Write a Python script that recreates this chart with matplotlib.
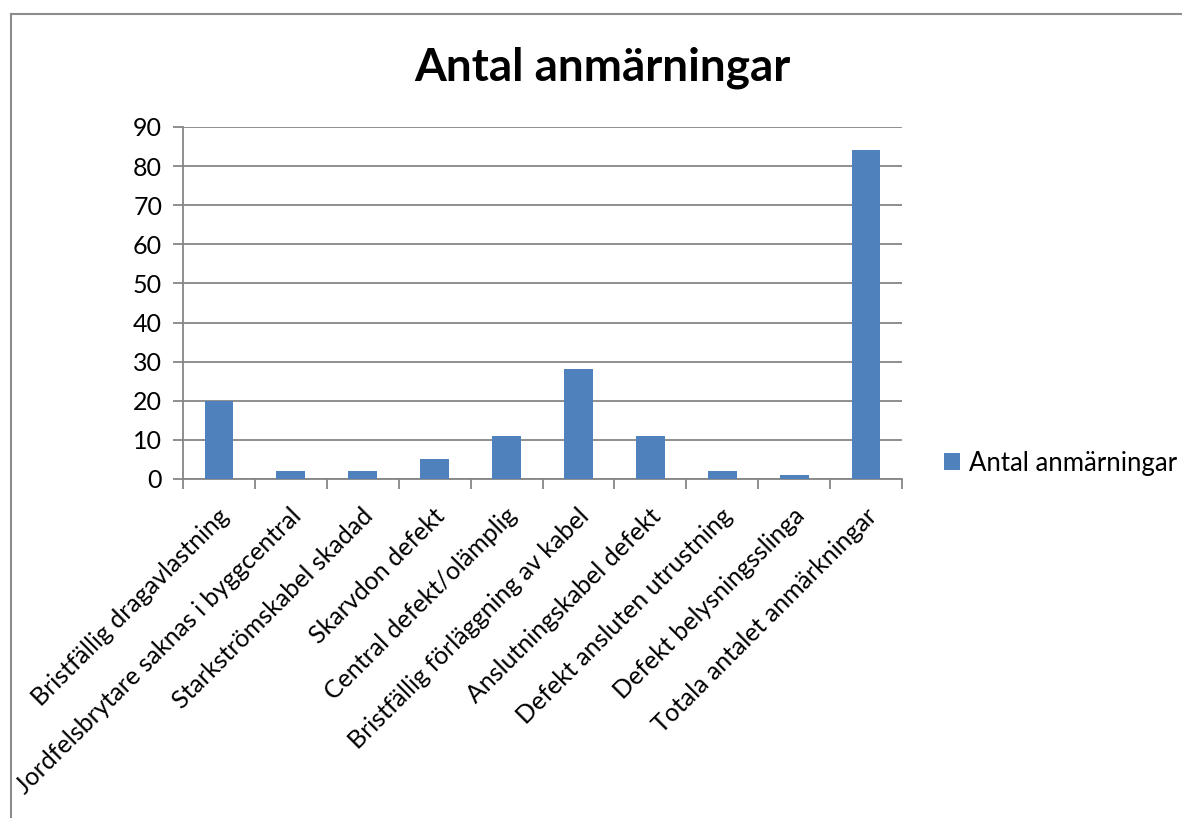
import matplotlib
matplotlib.use("Agg")
import matplotlib.pyplot as plt
from matplotlib.lines import Line2D
import numpy as np

categories = [
    "Bristfällig dragavlastning",
    "Jordfelsbrytare saknas i byggcentral",
    "Starkströmskabel skadad",
    "Skarvdon defekt",
    "Central defekt/olämplig",
    "Bristfällig förläggning av kabel",
    "Anslutningskabel defekt",
    "Defekt ansluten utrustning",
    "Defekt belysningsslinga",
    "Totala antalet anmärkningar",
]
values = [20, 2, 2, 5, 11, 28, 11, 2, 1, 84]
series_name = "Antal anmärningar"
title = "Antal anmärningar"
yticks = [0, 10, 20, 30, 40, 50, 60, 70, 80, 90]

plt.rcParams['font.family'] = ['Lato', 'DejaVu Sans']

W, H = 1182, 818
fig = plt.figure(figsize=(W / 100, H / 100), dpi=100)
fig.patch.set_facecolor('white')

ax = fig.add_axes([183 / W, (H - 479) / H, (902 - 183) / W, (479 - 127) / H])
x = np.arange(len(categories))
bars = ax.bar(x, values, width=0.4, color='#4F81BD', label=series_name, zorder=3)

ax.set_xlim(-0.5, len(categories) - 0.5)
ax.set_ylim(0, 90)
ax.set_yticks(yticks)
ax.set_yticklabels([str(v) for v in yticks], fontsize=18)
ax.yaxis.grid(True, color='#868686', linewidth=1.3, zorder=0)
ax.set_axisbelow(True)

# Category boundary ticks
ax.set_xticks(np.arange(-0.5, len(categories) + 0.5, 1.0))
ax.set_xticklabels([])
ax.tick_params(axis='x', length=7, width=1.3, color='#868686', direction='out')
ax.tick_params(axis='y', length=7, width=1.3, color='#868686', direction='out', pad=8)

for s in ['top', 'right']:
    ax.spines[s].set_visible(False)
for s in ['left', 'bottom']:
    ax.spines[s].set_color('#868686')
    ax.spines[s].set_linewidth(1.3)

# Rotated category labels
for i, lab in enumerate(categories):
    ax.annotate(lab, xy=(i, 0), xycoords=('data', 'axes fraction'),
                xytext=(-1, -18), textcoords='offset points',
                rotation=45, ha='right', va='top', rotation_mode='anchor',
                fontsize=18)

fig.text(602 / W, 1 - 68 / H, title, ha='center', va='center',
         fontsize=33, fontweight='bold')

leg = fig.legend(handles=[bars], labels=[series_name], loc='center left',
                 bbox_to_anchor=(921 / W, 1 - 463 / H), frameon=False,
                 fontsize=18.5, handlelength=0.6, handleheight=0.6,
                 handletextpad=0.35)

# Outer chart border (top and left visible)
fig.add_artist(Line2D([11 / W, 11 / W], [0, 1 - 14 / H], transform=fig.transFigure,
                      color='#8c8c8c', linewidth=1.5))
fig.add_artist(Line2D([11 / W, 1], [1 - 14 / H, 1 - 14 / H], transform=fig.transFigure,
                      color='#8c8c8c', linewidth=1.5))

fig.savefig('out.png', dpi=100, facecolor='white')
